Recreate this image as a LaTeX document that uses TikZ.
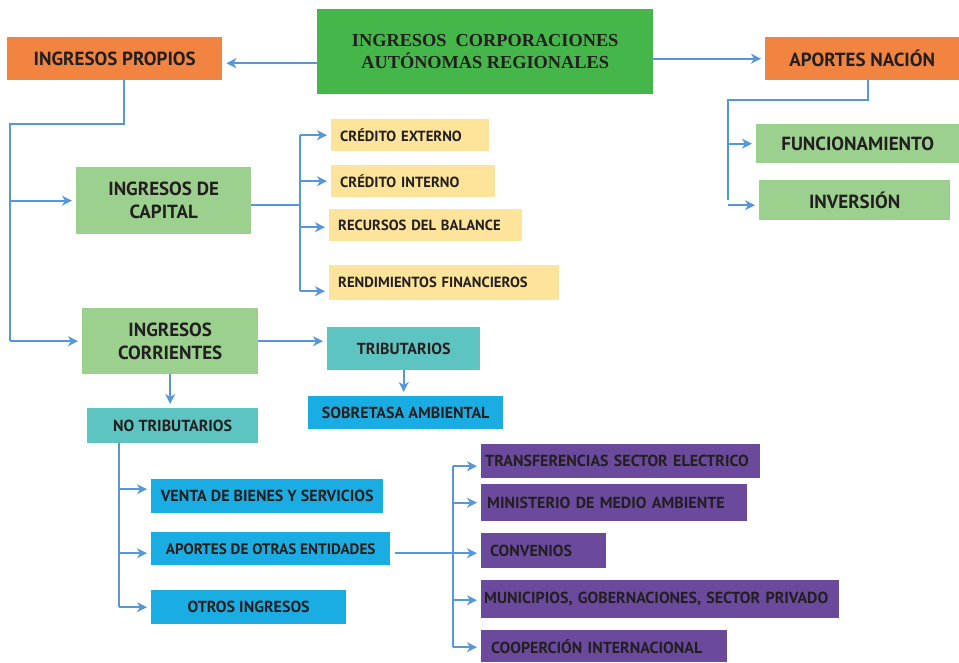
\documentclass[tikz,border=0pt]{standalone}
\usepackage{fontspec}
\setmainfont{Liberation Serif}
\newfontfamily\boxfont{PT Sans}
\usetikzlibrary{arrows.meta}

\definecolor{titlegreen}{HTML}{45B649}
\definecolor{boxorange}{HTML}{F08440}
\definecolor{lightgreen}{HTML}{9CD08F}
\definecolor{boxyellow}{HTML}{FEE49A}
\definecolor{boxteal}{HTML}{5EC4C1}
\definecolor{boxblue}{HTML}{1AADE3}
\definecolor{boxpurple}{HTML}{6B4A9E}
\definecolor{linkblue}{HTML}{5597D8}
\definecolor{textdark}{HTML}{231F20}

\begin{document}
\begin{tikzpicture}[x=1pt,y=-1pt,
  box/.style={anchor=north west, inner sep=0pt, align=center, text=textdark,
    font=\boxfont\bfseries\fontsize{16}{19}\selectfont},
  lbox/.style={box, align=left, inner xsep=9pt},
  small/.style={font=\boxfont\bfseries\fontsize{14.7}{17}\selectfont},
  big/.style={font=\boxfont\bfseries\fontsize{19}{23}\selectfont},
  link/.style={draw=linkblue, line width=1.6pt},
  arr/.style={link, -{Stealth[length=10pt,width=10pt,inset=3pt]}, shorten >=4pt}]
\useasboundingbox (0,0) rectangle (959,662);

\node[box, fill=titlegreen, minimum width=336pt, minimum height=85pt,
  font=\bfseries\fontsize{18.3}{22}\selectfont] (title) at (317,9)
  {INGRESOS\ \ CORPORACIONES\\AUTÓNOMAS REGIONALES};
\node[box, big, fill=boxorange, minimum width=215pt, minimum height=43pt] (propios) at (7,37) {INGRESOS PROPIOS};
\node[box, big, fill=boxorange, minimum width=194pt, minimum height=43pt] (nacion) at (765,37) {APORTES NACIÓN};

\node[box, big, fill=lightgreen, minimum width=175pt, minimum height=67pt] (capital) at (76,167) {INGRESOS DE\\CAPITAL};
\node[box, big, fill=lightgreen, minimum width=176pt, minimum height=66pt] (corrientes) at (82,308) {INGRESOS\\CORRIENTES};
\node[box, big, fill=lightgreen, minimum width=203pt, minimum height=39pt] (func) at (756,124) {FUNCIONAMIENTO};
\node[box, big, fill=lightgreen, minimum width=191pt, minimum height=40pt] (inv) at (759,180) {INVERSIÓN};

\node[lbox, small, fill=boxyellow, text width=140pt, minimum height=32pt] (cext) at (331,119) {CRÉDITO EXTERNO};
\node[lbox, small, fill=boxyellow, text width=146pt, minimum height=32pt] (cint) at (331,165) {CRÉDITO INTERNO};
\node[lbox, small, fill=boxyellow, text width=175pt, minimum height=32pt] (rbal) at (329,209) {RECURSOS DEL BALANCE};
\node[lbox, small, fill=boxyellow, text width=212pt, minimum height=35pt] (rend) at (329,265) {RENDIMIENTOS FINANCIEROS};

\node[box, fill=boxteal, minimum width=153pt, minimum height=43pt] (trib) at (327,327) {TRIBUTARIOS};
\node[box, fill=boxteal, minimum width=171pt, minimum height=35pt] (notrib) at (87,408) {NO TRIBUTARIOS};
\node[box, fill=boxblue, minimum width=195pt, minimum height=33pt] (sobre) at (308,396) {SOBRETASA AMBIENTAL};
\node[box, fill=boxblue, minimum width=232pt, minimum height=34pt] (venta) at (151,479) {VENTA DE BIENES Y SERVICIOS};
\node[box, fill=boxblue, minimum width=239pt, minimum height=33pt,
  font=\boxfont\bfseries\fontsize{15.2}{18}\selectfont] (apor) at (151,532) {APORTES DE OTRAS ENTIDADES};
\node[box, fill=boxblue, minimum width=195pt, minimum height=34pt] (otros) at (151,590) {OTROS INGRESOS};

\node[lbox, inner xsep=4pt, fill=boxpurple, text width=271pt, minimum height=34pt] (trans) at (481,444) {TRANSFERENCIAS SECTOR ELECTRICO};
\node[lbox, inner xsep=6pt, fill=boxpurple, text width=254pt, minimum height=37pt] (mma) at (481,484) {MINISTERIO DE MEDIO AMBIENTE};
\node[lbox, fill=boxpurple, text width=107pt, minimum height=35pt] (conv) at (481,533) {CONVENIOS};
\node[lbox, inner xsep=3pt, fill=boxpurple, text width=352pt, minimum height=38pt] (muni) at (481,580) {MUNICIPIOS, GOBERNACIONES, SECTOR PRIVADO};
\node[lbox, inner xsep=10pt, fill=boxpurple, text width=226pt, minimum height=32pt] (coop) at (481,630) {COOPERCIÓN INTERNACIONAL};

\coordinate (busA) at (10,124);
\coordinate (busB) at (300,0);
\coordinate (busC) at (119,0);
\coordinate (busD) at (453,0);
\coordinate (busE) at (728,100);

\draw[arr] ([yshift=-4.5pt]propios.east -| title.west) -- ([yshift=-4.5pt]propios.east);
\draw[arr] (title.east |- nacion.west) -- (nacion.west);

\draw[link] ([xshift=9.5pt]propios.south) |- (busA) -- (busA |- corrientes.west);
\draw[arr] (busA |- capital.west) -- (capital.west);
\draw[arr] (busA |- corrientes.west) -- (corrientes.west);

\draw[link] ([yshift=-4.5pt]capital.east) -- ([yshift=-4.5pt]busB |- capital.east);
\draw[link] (busB |- cext.west) -- ([yshift=-8.5pt]busB |- rend.west);
\draw[arr] (busB |- cext.west) -- (cext.west);
\draw[arr] (busB |- cint.west) -- (cint.west);
\draw[arr] ([yshift=-2pt]busB |- rbal.west) -- ([yshift=-2pt]rbal.west);
\draw[arr] ([yshift=-8.5pt]busB |- rend.west) -- ([yshift=-8.5pt]rend.west);

\draw[arr] (corrientes.east) -- (corrientes.east -| trib.west);
\draw[arr] (trib.south) -- (trib.south |- sobre.north);
\draw[arr] (corrientes.south) -- (corrientes.south |- notrib.north);

\draw[link] (busC |- notrib.south) -- (busC |- otros.west);
\draw[arr] ([yshift=7pt]busC |- venta.west) -- ([yshift=7pt]venta.west);
\draw[arr] ([yshift=-4.5pt]busC |- apor.west) -- ([yshift=-4.5pt]apor.west);
\draw[arr] (busC |- otros.west) -- (otros.west);

\draw[link, shorten <=5pt] ([yshift=-4.5pt]apor.east) -- ([yshift=-4.5pt]busD |- apor.east);
\draw[link] ([yshift=-5pt]busD |- trans.west) -- ([yshift=-1pt]busD |- coop.west);
\draw[arr] ([yshift=-5pt]busD |- trans.west) -- ([yshift=-5pt]trans.west);
\draw[arr] (busD |- mma.west) -- (mma.west);
\draw[arr] ([yshift=-2.5pt]busD |- conv.west) -- ([yshift=-2.5pt]conv.west);
\draw[arr] ([yshift=-1pt]busD |- muni.west) -- ([yshift=-1pt]muni.west);
\draw[arr] ([yshift=-1pt]busD |- coop.west) -- ([yshift=-1pt]coop.west);

\draw[link] ([xshift=6pt]nacion.south) |- (busE) -- (busE |- inv.west);
\draw[arr] (busE |- func.west) -- (func.west);
\draw[arr] ([yshift=-5pt]busE |- inv.west) -- ([yshift=-5pt]inv.west);
\end{tikzpicture}
\end{document}
